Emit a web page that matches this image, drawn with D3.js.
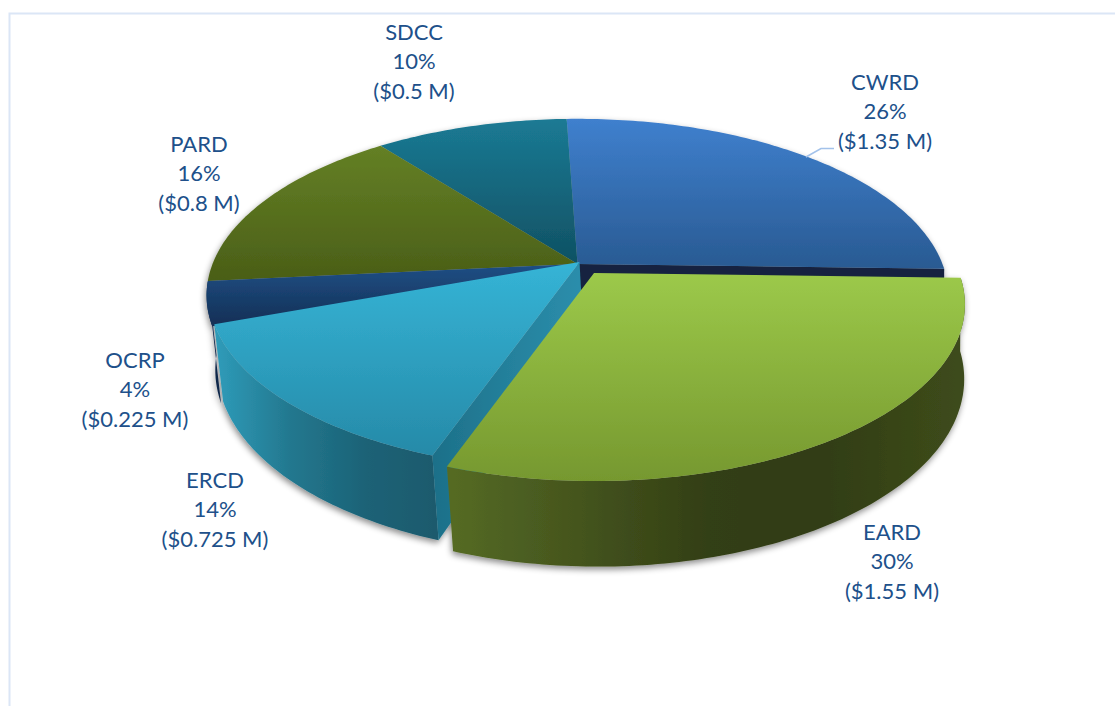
<!DOCTYPE html>
<html><head><meta charset="utf-8">
<script src="https://cdnjs.cloudflare.com/ajax/libs/d3/7.8.5/d3.min.js"></script>
<style>html,body{margin:0;padding:0;background:#fff}svg{display:block}</style>
</head><body><svg id="c" width="1115" height="706"></svg>
<script>
// ---- data ----
const categories = ["CWRD","EARD","ERCD","OCRP","PARD","SDCC"];
const percents   = [26,30,14,4,16,10];
const amounts    = ["($1.35 M)","($1.55 M)","($0.725 M)","($0.225 M)","($0.8 M)","($0.5 M)"];

// ---- layout and style (not data) ----
const W=1115,H=706, cx=577.5, cy=264, R=365, HY=171, K=0.178, DROP=74, SHRINK=0.0125, BASE_DX=4;
const startDeg=-2;
const explode = [[0,0],[16.5,9],[2,-2],[0,0],[0,0],[0,0]];
const topColors = [["#3f80ce","#295a92"],["#9cc94a","#76982f"],["#35b4d6","#268aa8"],["#1f4f85","#132f55"],["#648025","#4a5e17"],["#1b7a94","#0f5163"]];
const labelPos = [[885,82],[892,532],[215,480],[135,360],[199,144],[414,32]];
const lineGap = 29.5;

const svg=d3.select("#c");
const defs=svg.append("defs");

const pie=d3.pie().sort(null).value(d=>d)
  .startAngle(startDeg*Math.PI/180).endAngle((startDeg+360)*Math.PI/180).padAngle(0);
const arcs=pie(percents);

// perspective projection of a unit-disc point
function proj(i,a,r,base){
  const X=r*Math.sin(a),Y=r*Math.cos(a);
  const s=1+K*Y+(base?SHRINK:0);
  return [cx+explode[i][0]+(base?BASE_DX:0)+R*X/s, cy+explode[i][1]+(-HY*Y+(base?DROP:0))/s];
}
const line=d3.line();
function samples(a0,a1){const n=Math.max(2,Math.ceil(Math.abs(a1-a0)*60));return d3.range(n+1).map(k=>a0+(a1-a0)*k/n);}
function topPath(i){const d=arcs[i];return line([proj(i,0,0,false),...samples(d.startAngle,d.endAngle).map(a=>proj(i,a,1,false))])+"Z";}
function sidePath(i,a0,a1){const s=samples(a0,a1);return line([...s.map(a=>proj(i,a,1,false)),...s.slice().reverse().map(a=>proj(i,a,1,true))])+"Z";}
function wallPath(i,a){return line([proj(i,0,0,false),proj(i,a,1,false),proj(i,a,1,true),proj(i,0,0,true)])+"Z";}

// gradients
topColors.forEach((c,i)=>{
  const g=defs.append("linearGradient").attr("id","top"+i).attr("x1",0).attr("y1",0).attr("x2",0).attr("y2",1);
  g.append("stop").attr("offset",0).attr("stop-color",c[0]);
  g.append("stop").attr("offset",1).attr("stop-color",c[1]);
});
function hGrad(id,x1,x2,stops){
  const g=defs.append("linearGradient").attr("id",id).attr("gradientUnits","userSpaceOnUse")
    .attr("x1",x1).attr("x2",x2).attr("y1",0).attr("y2",0);
  stops.forEach(s=>g.append("stop").attr("offset",s[0]).attr("stop-color",s[1]));
}
hGrad("sideEARD",448,966,[[0,"#556b24"],[0.2,"#48591f"],[0.5,"#333f15"],[0.7,"#303c14"],[1,"#3e4c1b"]]);
hGrad("sideERCD",212,434,[[0,"#2f9dbb"],[0.35,"#23788f"],[0.7,"#1b6276"],[1,"#1a5a6d"]]);
hGrad("wallERCD",434,578,[[0,"#1d7089"],[0.5,"#24809b"],[1,"#2b8dab"]]);
const f=defs.append("filter").attr("id","sh").attr("x","-5%").attr("y","-5%").attr("width","110%").attr("height","115%");
f.append("feDropShadow").attr("dx",-1).attr("dy",3).attr("stdDeviation",3).attr("flood-color","#000").attr("flood-opacity",0.45);

// frame
svg.append("path").attr("d",line([[9.5,H],[9.5,13.5],[W,13.5]])).attr("fill","none").attr("stroke","#dbe6f6").attr("stroke-width",2);

const g=svg.append("g").attr("filter","url(#sh)");
const idx=Object.fromEntries(categories.map((c,i)=>[c,i]));
// back to front
const iC=idx.CWRD,iE=idx.EARD,iR=idx.ERCD,iO=idx.OCRP,iP=idx.PARD,iS=idx.SDCC;
g.append("path").attr("d",wallPath(iC,arcs[iC].endAngle)).attr("fill","#13233f");
g.append("path").attr("d",topPath(iC)).attr("fill","url(#top"+iC+")");
g.append("path").attr("d",topPath(iS)).attr("fill","url(#top"+iS+")");
g.append("path").attr("d",topPath(iP)).attr("fill","url(#top"+iP+")");
g.append("path").attr("d",sidePath(iO,arcs[iO].startAngle,arcs[iO].endAngle)).attr("fill","#10284a");
g.append("path").attr("d",topPath(iO)).attr("fill","url(#top"+iO+")");
g.append("path").attr("d",sidePath(iR,arcs[iR].startAngle,arcs[iR].endAngle)).attr("fill","url(#sideERCD)");
g.append("path").attr("d",wallPath(iR,arcs[iR].startAngle)).attr("fill","url(#wallERCD)");
g.append("path").attr("d",topPath(iR)).attr("fill","url(#top"+iR+")");
g.append("path").attr("d",sidePath(iE,arcs[iE].startAngle,arcs[iE].endAngle)).attr("fill","url(#sideEARD)");
g.append("path").attr("d",topPath(iE)).attr("fill","url(#top"+iE+")");

// leader line
svg.append("path").attr("d",line([[806,157],[821,148.5],[834,148.5]])).attr("fill","none").attr("stroke","#a3c2ea").attr("stroke-width",1.6);

// labels
categories.forEach((c,i)=>{
  const t=svg.append("text").attr("text-anchor","middle").attr("font-family","Lato, 'Open Sans', sans-serif")
    .attr("font-size",22).attr("fill","#20508a");
  [c,percents[i]+"%",amounts[i]].forEach((s,k)=>{
    t.append("tspan").attr("x",labelPos[i][0]).attr("y",labelPos[i][1]+k*lineGap).attr("dy","0.35em").text(s);
  });
});
</script></body></html>
